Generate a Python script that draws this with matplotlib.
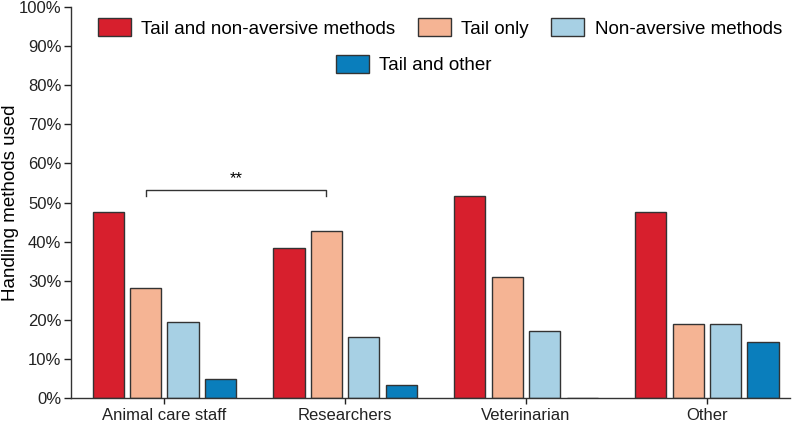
import matplotlib.pyplot as plt
import numpy as np

plt.rcParams['font.family'] = ['Liberation Sans', 'DejaVu Sans']

groups = ["Animal care staff", "Researchers", "Veterinarian", "Other"]
series = ["Tail and non-aversive methods", "Tail only", "Non-aversive methods", "Tail and other"]
tail_nonaversive = [47.6, 38.3, 51.7, 47.6]
tail_only = [28.1, 42.6, 31.0, 19.0]
non_aversive = [19.4, 15.7, 17.2, 19.0]
tail_other = [4.8, 3.2, 0.0, 14.3]
colors = ['#D71F2D', '#F5B494', '#A7D0E4', '#0A7EBC']

values = [tail_nonaversive, tail_only, non_aversive, tail_other]

fig = plt.figure(figsize=(8, 4.24), dpi=100)
ax = fig.add_axes([0.089, 0.0613, 0.8985, 0.922])

x = np.arange(len(groups))
pitch = 0.207
width = 0.172
bars = []
for i, vals in enumerate(values):
    b = ax.bar(x + (i - 1.5) * pitch, vals, width, color=colors[i],
               edgecolor='#333333', linewidth=1.0, label=series[i])
    bars.append(b)

ax.set_xlim(-0.515, 3.46)
ax.set_ylim(0, 100)
ax.set_yticks(np.arange(0, 101, 10))
ax.set_yticklabels([f"{v}%" for v in range(0, 101, 10)])
ax.set_xticks(x)
ax.set_xticklabels(groups)
ax.tick_params(axis='both', labelsize=12, colors='#222222', width=1.0)
ax.tick_params(axis='y', length=5, pad=2)
ax.tick_params(axis='x', length=4, pad=3)
for s in ['top', 'right']:
    ax.spines[s].set_visible(False)
for s in ['left', 'bottom']:
    ax.spines[s].set_color('#333333')
    ax.spines[s].set_linewidth(1.0)
ax.set_ylabel("Handling methods used", fontsize=13.5)
ax.yaxis.set_label_coords(-0.072, 0.5)

# significance bracket
x1 = x[0] - 0.5 * pitch
x2 = x[1] - 0.5 * pitch
ax.plot([x1, x1, x2, x2], [51.7, 53.2, 53.2, 51.7], color='#333333', lw=1.0)
ax.text((x1 + x2) / 2, 54.3, "**", ha='center', va='bottom', fontsize=12)

lkw = dict(frameon=False, fontsize=13.5, handlelength=1.76, handleheight=1.07,
           handletextpad=0.55, columnspacing=1.2, borderpad=0, borderaxespad=0)
fig.legend(bars[:3], series[:3], ncol=3, loc='center',
           bbox_to_anchor=(440 / 800, 1 - 28 / 424), **lkw)
fig.legend([bars[3]], [series[3]], loc='center',
           bbox_to_anchor=(413.5 / 800, 1 - 64.5 / 424), **lkw)

fig.savefig("out.png", dpi=100)
